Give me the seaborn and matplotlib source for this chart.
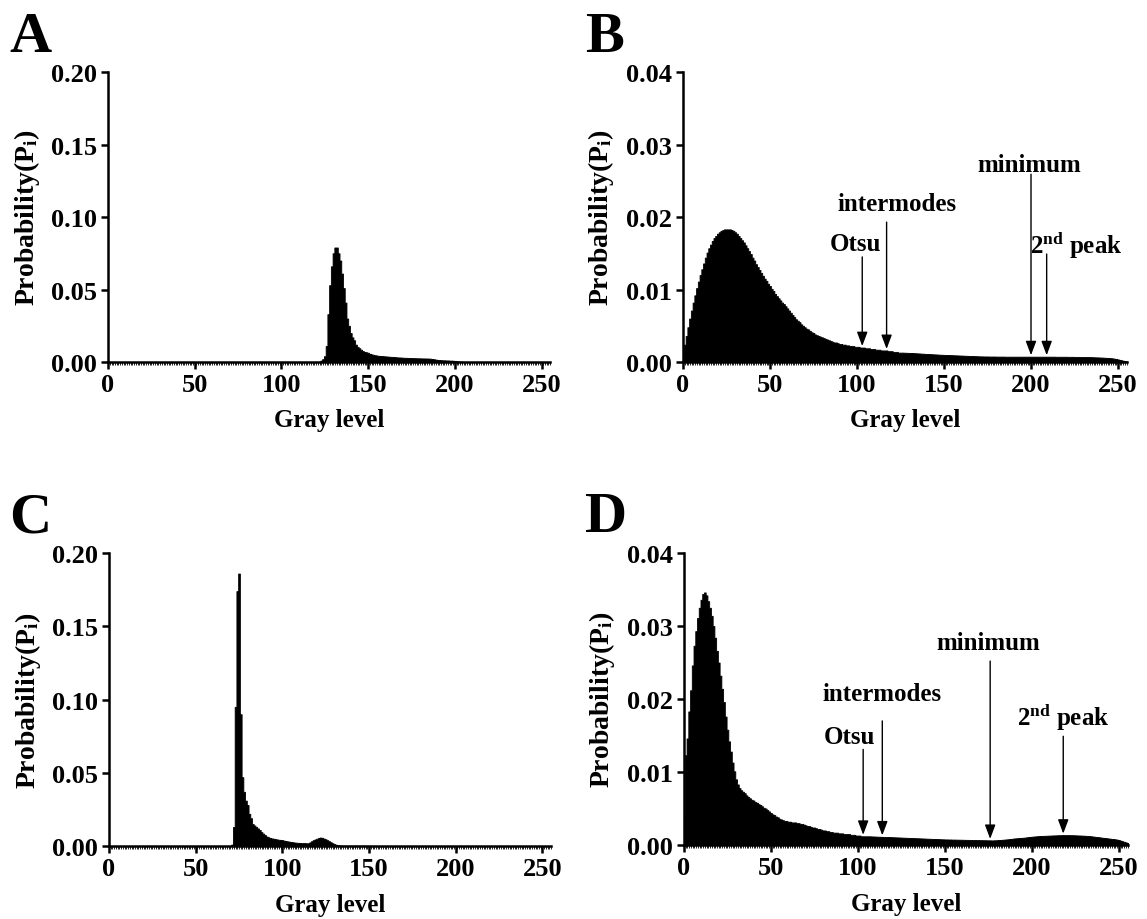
import numpy as np
import matplotlib
matplotlib.use('Agg')
import matplotlib.pyplot as plt
import seaborn as sns

# gray levels 0..255, probabilities stored in units of 1e-5
gray = np.arange(256)

hist_a = np.array([0] * 122 + [
    20, 100, 200, 400, 1100, 3300, 5300, 6600, 7500, 7900,          # 122-131
    7900, 7500, 7000, 6100, 5100, 4100, 3000, 2500, 2000, 1700,     # 132-141
    1500, 1200, 1050, 950, 850, 760, 700, 670, 640, 570,            # 142-151
    530, 500, 470, 450, 430, 420, 410, 400, 390, 380,               # 152-161
    370, 360, 355, 350, 330, 320, 315, 310, 300, 295,               # 162-171
    290, 285, 280, 275, 270, 265, 260, 260, 255, 250,               # 172-181
    250, 245, 245, 240, 230, 210, 190, 170, 150, 140,               # 182-191
    130, 120, 120, 110, 110, 100, 100, 90, 80, 60,                  # 192-201
    40, 30, 20, 10] + [0] * 50) * 1e-5

hist_b = np.array([
    80, 240, 360, 480, 600, 710, 820, 920, 1020, 1110,
    1200, 1280, 1360, 1440, 1510, 1570, 1620, 1670, 1710, 1740,
    1770, 1790, 1810, 1820, 1830, 1830, 1830, 1830, 1820, 1810,
    1790, 1770, 1740, 1710, 1680, 1650, 1610, 1570, 1530, 1490,
    1440, 1400, 1350, 1310, 1270, 1230, 1190, 1150, 1120, 1080,
    1050, 1010, 980, 940, 910, 880, 850, 820, 800, 770,
    740, 710, 680, 650, 620, 590, 570, 550, 520, 500,
    480, 460, 450, 430, 410, 400, 380, 370, 360, 350,
    340, 330, 320, 310, 300, 290, 280, 270, 270, 260,
    250, 250, 240, 240, 230, 230, 220, 220, 220, 210,
    210, 210, 200, 200, 200, 190, 190, 190, 180, 180,
    180, 170, 170, 170, 160, 160, 160, 160, 150, 150,
    150, 140, 140, 140, 130, 130, 130, 129, 128, 127,
    126, 125, 124, 122, 121, 119, 118, 116, 115, 113,
    112, 110, 109, 108, 106, 105, 104, 102, 101, 100,
    99, 98, 97, 96, 95, 94, 93, 92, 91, 90,
    89, 88, 87, 86, 85, 84, 83, 82, 81, 80,
    79, 78, 78, 77, 77, 77, 76, 76, 76, 76,
    75, 75, 75, 75, 75, 74, 74, 74, 74, 74,
    74, 74, 74, 74, 74, 74, 74, 74, 74, 74,
    74, 74, 74, 74, 74, 74, 74, 74, 74, 74,
    74, 74, 74, 74, 73, 73, 73, 73, 73, 73,
    73, 72, 72, 72, 72, 71, 71, 71, 70, 70,
    70, 69, 69, 68, 68, 67, 66, 65, 64, 63,
    62, 61, 60, 58, 57, 55, 53, 50, 46, 42,
    36, 30, 24, 18, 12, 8]) * 1e-5

hist_c = np.array([0] * 71 + [
    100, 1300, 9500, 17400, 18600, 9000, 4700, 3700, 3100,          # 71-79
    2800, 2200, 1900, 1500, 1400, 1300, 1200, 1100, 950, 850,       # 80-89
    750, 650, 600, 550, 520, 500, 470, 450, 430, 420,               # 90-99
    400, 370, 340, 320, 300, 280, 260, 240, 230, 220,               # 100-109
    210, 200, 200, 200, 190, 190, 250, 330, 400, 450,               # 110-119
    500, 550, 580, 560, 510, 460, 400, 330, 260, 190,               # 120-129
    130, 90, 60, 40, 30, 20, 20, 20, 20, 20,                        # 130-139
    20, 20, 20, 20, 20, 20, 20, 20, 20, 20, 20] + [0] * 105) * 1e-5

hist_d = np.array([
    410, 1230, 1460, 1830, 2120, 2460, 2730, 2930, 3110, 3250,
    3360, 3440, 3460, 3420, 3340, 3250, 3140, 3000, 2840, 2660,
    2500, 2320, 2140, 1960, 1760, 1580, 1420, 1280, 1130, 1010,
    900, 830, 780, 750, 730, 710, 680, 660, 640, 620,
    610, 590, 580, 560, 550, 530, 510, 500, 480, 460,
    440, 420, 410, 390, 380, 360, 350, 340, 330, 330,
    320, 320, 310, 310, 310, 300, 300, 290, 290, 280,
    270, 260, 260, 250, 240, 240, 230, 220, 220, 210,
    200, 200, 190, 190, 180, 180, 170, 170, 170, 160,
    160, 160, 150, 150, 150, 150, 140, 140, 140, 130,
    130, 130, 120, 120, 120, 120, 120, 119, 118, 117,
    116, 115, 114, 113, 112, 111, 110, 110, 109, 108,
    107, 106, 105, 104, 103, 102, 101, 100, 99, 98,
    97, 96, 95, 94, 93, 92, 91, 90, 89, 88,
    87, 86, 85, 84, 83, 82, 81, 80, 79, 78,
    77, 77, 76, 76, 75, 75, 74, 74, 73, 73,
    72, 72, 71, 71, 70, 70, 69, 69, 68, 68,
    67, 67, 66, 66, 65, 65, 64, 63, 64, 65,
    66, 68, 70, 72, 74, 76, 78, 81, 84, 87,
    90, 92, 94, 96, 98, 100, 102, 105, 108, 111,
    114, 116, 118, 120, 122, 124, 125, 126, 127, 128,
    129, 130, 131, 132, 133, 134, 135, 135, 136, 136,
    136, 136, 135, 135, 134, 133, 132, 131, 130, 129,
    128, 126, 124, 122, 120, 117, 114, 111, 108, 105,
    102, 99, 96, 93, 90, 87, 84, 81, 78, 74,
    68, 60, 52, 44, 36, 28]) * 1e-5

# threshold gray levels marked in B and D
method_names = ['Otsu', 'intermodes', 'minimum', '2$^{\\rm nd}$ peak']
thresh_b = [103, 117, 200, 209]
thresh_d = [103, 114, 176, 218]

sns.set_style('ticks')
plt.rcParams['font.family'] = ['Liberation Serif', 'DejaVu Serif']
plt.rcParams['font.weight'] = 'bold'
plt.rcParams['mathtext.fontset'] = 'custom'
plt.rcParams['mathtext.rm'] = 'Liberation Serif:bold'
plt.rcParams['mathtext.bf'] = 'Liberation Serif:bold'
plt.rcParams['mathtext.it'] = 'Liberation Serif:bold'
for key in ['text.color', 'axes.labelcolor', 'axes.edgecolor', 'xtick.color', 'ytick.color']:
    plt.rcParams[key] = 'black'

FS = 18
fig = plt.figure(figsize=(11.47, 9.2), dpi=100)


def panel(rect, values, ymax, ystep, letter, letter_pos):
    ax = fig.add_axes(rect)
    sns.histplot(x=gray, weights=values, discrete=True, element='step', fill=True,
                 color='black', alpha=1, linewidth=0.6, edgecolor='black', ax=ax)
    ax.set_xlim(0, 255)
    ax.set_ylim(0, ymax)
    ax.set_xticks(np.arange(0, 251, 50))
    ax.set_xticks(np.arange(0, 256, 1), minor=True)
    ax.set_yticks(np.arange(0, ymax + ystep / 2, ystep))
    ax.set_yticklabels(['%.2f' % v for v in np.arange(0, ymax + ystep / 2, ystep)])
    sns.despine(ax=ax)
    for s in ['left', 'bottom']:
        ax.spines[s].set_linewidth(1.8)
    ax.tick_params(axis='both', which='major', direction='out', length=5, width=1.8,
                   labelsize=19, pad=3)
    ax.tick_params(axis='x', which='minor', direction='out', length=2, width=0.6)
    for lab in ax.get_xticklabels() + ax.get_yticklabels():
        lab.set_fontweight('bold')
    ax.set_xlabel('Gray level', fontsize=FS, fontweight='bold')
    ax.set_ylabel('Probability(P$_{\\rm i}$)', fontsize=20, fontweight='bold')
    ax.xaxis.set_label_coords(0.5, -0.16)
    ax.yaxis.set_label_coords(-0.15, 0.5)
    fig.text(letter_pos[0], letter_pos[1], letter, fontsize=42, fontweight='bold',
             ha='left', va='baseline')
    return ax


def mark(ax, values, levels, tails, text_pos):
    for name, g, tail, (tx, ty) in zip(method_names, levels, tails, text_pos):
        tip = values[g] + 0.0002
        ax.annotate('', xy=(g, tip), xytext=(g, tail),
                    arrowprops=dict(arrowstyle='-|>,head_length=0.85,head_width=0.32',
                                    lw=1, color='black', shrinkA=0, shrinkB=0,
                                    mutation_scale=10))
        ax.text(tx, ty, name, fontsize=FS, fontweight='bold', ha='center', va='center')


ax_a = panel([0.0942, 0.6054, 0.3855, 0.3152], hist_a, 0.20, 0.05, 'A', (0.008, 0.9435))
ax_b = panel([0.5955, 0.6054, 0.3868, 0.3152], hist_b, 0.04, 0.01, 'B', (0.510, 0.9435))
ax_c = panel([0.0950, 0.0793, 0.3855, 0.3185], hist_c, 0.20, 0.05, 'C', (0.008, 0.4217))
ax_d = panel([0.5963, 0.0804, 0.3868, 0.3174], hist_d, 0.04, 0.01, 'D', (0.510, 0.4217))

mark(ax_b, hist_b, thresh_b, [0.0145, 0.0193, 0.0259, 0.0149],
     [(99, 0.0163), (123, 0.0218), (199, 0.0273), (226, 0.0163)])
mark(ax_d, hist_d, thresh_d, [0.0131, 0.0170, 0.0252, 0.0149],
     [(95, 0.0149), (114, 0.0207), (175, 0.0278), (218, 0.0177)])

fig.savefig('out.png', dpi=100)
